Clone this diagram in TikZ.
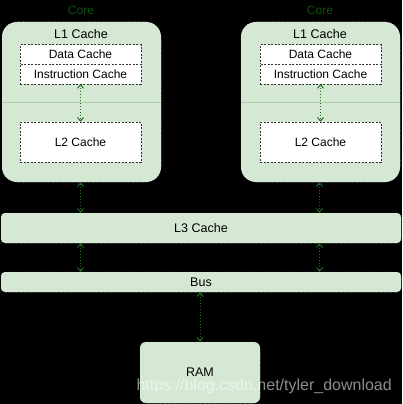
\documentclass[tikz,border=0pt]{standalone}
\usepackage{fontspec}
\setmainfont{Liberation Sans}
\usetikzlibrary{arrows.meta}
\definecolor{boxfill}{HTML}{D5E8D4}
\definecolor{boxedge}{HTML}{EEF6EE}
\definecolor{sepc}{HTML}{AECBAC}
\definecolor{arrowc}{HTML}{1E6E1E}
\definecolor{corec}{HTML}{0B550B}
\tikzset{
  corebox/.style={draw=boxedge, dotted, line width=0.5pt, fill=boxfill, rounded corners=15pt, inner sep=0pt},
  cachebox/.style={draw=black!80, dashed, dash pattern=on 2pt off 1.5pt, line width=0.5pt, fill=white, inner sep=0pt, minimum width=121pt, font=\fontsize{12}{14}\selectfont},
  barbox/.style={draw=boxedge, dotted, line width=0.5pt, fill=boxfill, rounded corners=4pt, inner sep=0pt, font=\fontsize{12.5}{14}\selectfont},
  lbl/.style={inner sep=0pt, font=\fontsize{12.5}{14}\selectfont},
  corelbl/.style={inner sep=0pt, text=corec, font=\fontsize{12}{13}\selectfont},
  sepline/.style={draw=sepc, line width=0.6pt},
  link/.style={draw=arrowc, dotted, line width=1pt, {Straight Barb[length=3.5pt,width=6pt]}-{Straight Barb[length=3.5pt,width=6pt]}},
  wmark/.style={inner sep=0pt, anchor=base east, text=white, text opacity=0.55, font=\fontsize{16}{18}\selectfont}
}
\begin{document}
\begin{tikzpicture}[x=1pt,y=-1pt]
\fill[black] (0,0) rectangle (402,404);
\useasboundingbox (0,0) rectangle (402,404);

% left core
\node[corelbl] (coreLlbl) at (81,10) {Core};
\node[corebox, minimum width=159pt, minimum height=160pt] (coreL) at (81.5,102) {};
\draw[sepline] (coreL.west) -- (coreL.east);
\node[lbl] (l1L) at (81,34) {L1 Cache};
\node[cachebox, minimum height=19.5pt] (dL) at (80.5,54.5) {Data Cache};
\node[cachebox, minimum height=19.5pt] (iL) at (80.5,74) {Instruction Cache};
\node[cachebox, minimum height=40pt] (l2L) at (80.5,142) {L2 Cache};
\draw[link] (iL.south) -- (l2L.north);

% right core
\node[corelbl] (coreRlbl) at (320,10) {Core};
\node[corebox, minimum width=159pt, minimum height=160pt] (coreR) at (320.5,102) {};
\draw[sepline] (coreR.west) -- (coreR.east);
\node[lbl] (l1R) at (320,34) {L1 Cache};
\node[cachebox, minimum height=19.5pt] (dR) at (320.5,54.5) {Data Cache};
\node[cachebox, minimum height=19.5pt] (iR) at (320.5,74) {Instruction Cache};
\node[cachebox, minimum height=40pt] (l2R) at (320.5,142) {L2 Cache};
\draw[link] (iR.south) -- (l2R.north);

% L3, bus, RAM
\node[barbox, minimum width=400pt, minimum height=30pt] (l3) at (201,228) {L3 Cache};
\node[barbox, minimum width=400pt, minimum height=20pt] (bus) at (201,282) {Bus};
\node[barbox, rounded corners=6pt, minimum width=120pt, minimum height=61pt] (ram) at (200,372.5) {RAM};

\draw[link] ([xshift=-1pt]coreL.south) -- ([xshift=-1pt]coreL.south |- l3.north);
\draw[link] ([xshift=-1pt]coreR.south) -- ([xshift=-1pt]coreR.south |- l3.north);
\draw[link] ([xshift=-1pt]coreL.south |- l3.south) -- ([xshift=-1pt]coreL.south |- bus.north);
\draw[link] ([xshift=-1pt]coreR.south |- l3.south) -- ([xshift=-1pt]coreR.south |- bus.north);
\draw[link] (ram.north |- bus.south) -- (ram.north);

% watermark
\node[wmark] (wm) at (392,390) {https://blog.csdn.net/tyler\_download};
\end{tikzpicture}
\end{document}
